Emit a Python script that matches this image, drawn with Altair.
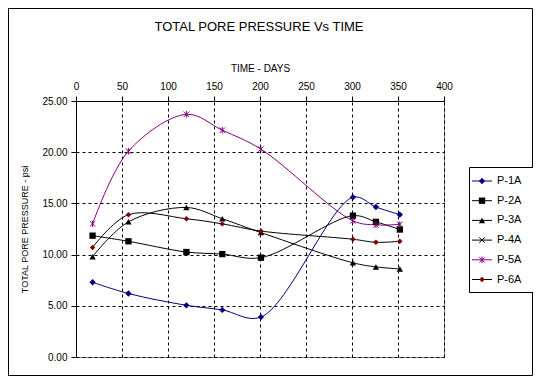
import altair as alt
import pandas as pd

# ---- data ----
series_names = ["P-1A", "P-2A", "P-3A", "P-4A", "P-5A", "P-6A"]
days = [18, 57, 120, 159, 201, 301, 326, 352]
p1a = [7.3, 6.2, 5.05, 4.6, 3.9, 15.6, 14.65, 13.9]
p2a = [11.85, 11.3, 10.25, 10.05, 9.7, 13.8, 13.2, 12.45]
p3a = [9.8, 13.2, 14.6, 13.5, 12.15, 9.2, 8.8, 8.6]
p4a = []  # no visible data for P-4A
p5a = [13.0, 20.1, 23.7, 22.15, 20.3, 13.3, 12.9, 12.95]
p6a = [10.7, 13.9, 13.5, 13.0, 12.3, 11.5, 11.2, 11.3]
x_ticks = [0, 50, 100, 150, 200, 250, 300, 350, 400]
y_ticks = [0, 5, 10, 15, 20, 25]

line_colors = ["#000080", "#000000", "#000000", "#000000", "#800080", "#000000"]
marker_colors = ["#000080", "#000000", "#000000", "#000000", "#800080", "#800000"]
shapes = ["diamond", "square", "triangle-up",
          "M-1,-1L1,1M-1,1L1,-1",
          "M-1,-1L1,1M-1,1L1,-1M0,-1.2L0,1.2",
          "diamond"]
filled_flags = [True, True, True, False, False, True]
marker_sizes = [40, 40, 40, 30, 30, 30]

all_values = [p1a, p2a, p3a, p4a, p5a, p6a]
rows = []
for name, vals in zip(series_names, all_values):
    for d, v in zip(days, vals):
        rows.append({"series": name, "day": d, "psi": v})
df = pd.DataFrame(rows, columns=["series", "day", "psi"])

FONT = "Liberation Sans"
W, H = 368, 256

x_enc = alt.X("day:Q", scale=alt.Scale(domain=[0, 400], nice=False),
              axis=alt.Axis(orient="top", values=x_ticks, title="TIME - DAYS",
                            titleFontSize=10, titleFont=FONT, titleFontWeight="normal",
                            titlePadding=8, labelFontSize=10, labelFont=FONT,
                            labelPadding=5, tickSize=5, tickColor="black",
                            domainColor="black", labelColor="black", titleColor="black",
                            grid=True, gridDash=[3, 3], gridColor="black",
                            gridOpacity=1, labelFlush=False))
y_enc = alt.Y("psi:Q", scale=alt.Scale(domain=[0, 25], nice=False),
              axis=alt.Axis(values=y_ticks, format=".2f",
                            title="TOTAL PORE PRESSURE - psi",
                            titleFontSize=9, titleFont=FONT, titleFontWeight="normal",
                            titlePadding=12, labelFontSize=10, labelFont=FONT,
                            labelPadding=4, tickSize=5, tickColor="black",
                            domainColor="black", labelColor="black", titleColor="black",
                            grid=True, gridDash=[3, 3], gridColor="black",
                            gridOpacity=1))
line_color_enc = alt.Color("series:N", scale=alt.Scale(domain=series_names, range=line_colors),
                           legend=None)
marker_color_enc = alt.Color("series:N",
                             scale=alt.Scale(domain=series_names, range=marker_colors),
                             legend=None)
shape_enc = alt.Shape("series:N", scale=alt.Scale(domain=series_names, range=shapes),
                      legend=None)

base = alt.Chart(df)
lines = base.mark_line(interpolate="catmull-rom", strokeWidth=1).encode(
    x=x_enc, y=y_enc, color=line_color_enc, detail="series:N")

point_layers = []
for i, name in enumerate(series_names):
    point_layers.append(base.transform_filter(alt.datum.series == name).mark_point(
        filled=filled_flags[i], shape=shapes[i], color=marker_colors[i],
        size=marker_sizes[i], strokeWidth=1, opacity=1).encode(x="day:Q", y="psi:Q"))

one = pd.DataFrame({"k": [0]})
title_txt = alt.Chart(one).mark_text(font=FONT, fontSize=13, color="black",
                                     baseline="middle", align="center").encode(
    x=alt.value(W / 2 - 1), y=alt.value(-74), text=alt.value("TOTAL PORE PRESSURE Vs TIME"))

outer = alt.Chart(one).mark_rect(fill=None, stroke="black", strokeWidth=1).encode(
    x=alt.value(-67.5), x2=alt.value(456.5), y=alt.value(-92.5), y2=alt.value(274.5))

# legend (manual, Excel style)
leg_layers = [alt.Chart(one).mark_rect(fill="white", stroke="black", strokeWidth=1).encode(
    x=alt.value(469 - 76 + 0.5), x2=alt.value(533 - 76 + 0.5),
    y=alt.value(167 - 101 + 0.5), y2=alt.value(292 - 101 + 0.5))]
leg_y0 = 181 - 101
leg_step = 19.7
for i, name in enumerate(series_names):
    yy = leg_y0 + i * leg_step
    leg_layers.append(alt.Chart(one).mark_rule(color=line_colors[i], strokeWidth=1).encode(
        x=alt.value(472 - 76), x2=alt.value(492 - 76), y=alt.value(yy)))
    leg_layers.append(alt.Chart(one).mark_point(
        filled=filled_flags[i], shape=shapes[i], color=marker_colors[i],
        size=marker_sizes[i], strokeWidth=1, opacity=1).encode(
        x=alt.value(482 - 76), y=alt.value(yy)))
    leg_layers.append(alt.Chart(one).mark_text(font=FONT, fontSize=11, color="black",
                                               align="left", baseline="middle").encode(
        x=alt.value(497 - 76), y=alt.value(yy), text=alt.value(name)))

chart = alt.layer(outer, lines, *point_layers, title_txt, *leg_layers).properties(
    width=W, height=H,
    autosize=alt.AutoSizeParams(type="none"),
    padding={"left": 68, "top": 93, "right": 89, "bottom": 19},
    background="white",
).configure_view(stroke="#808080", strokeWidth=1)

chart.save("out.html", embed_options={"renderer": "svg", "actions": False})
